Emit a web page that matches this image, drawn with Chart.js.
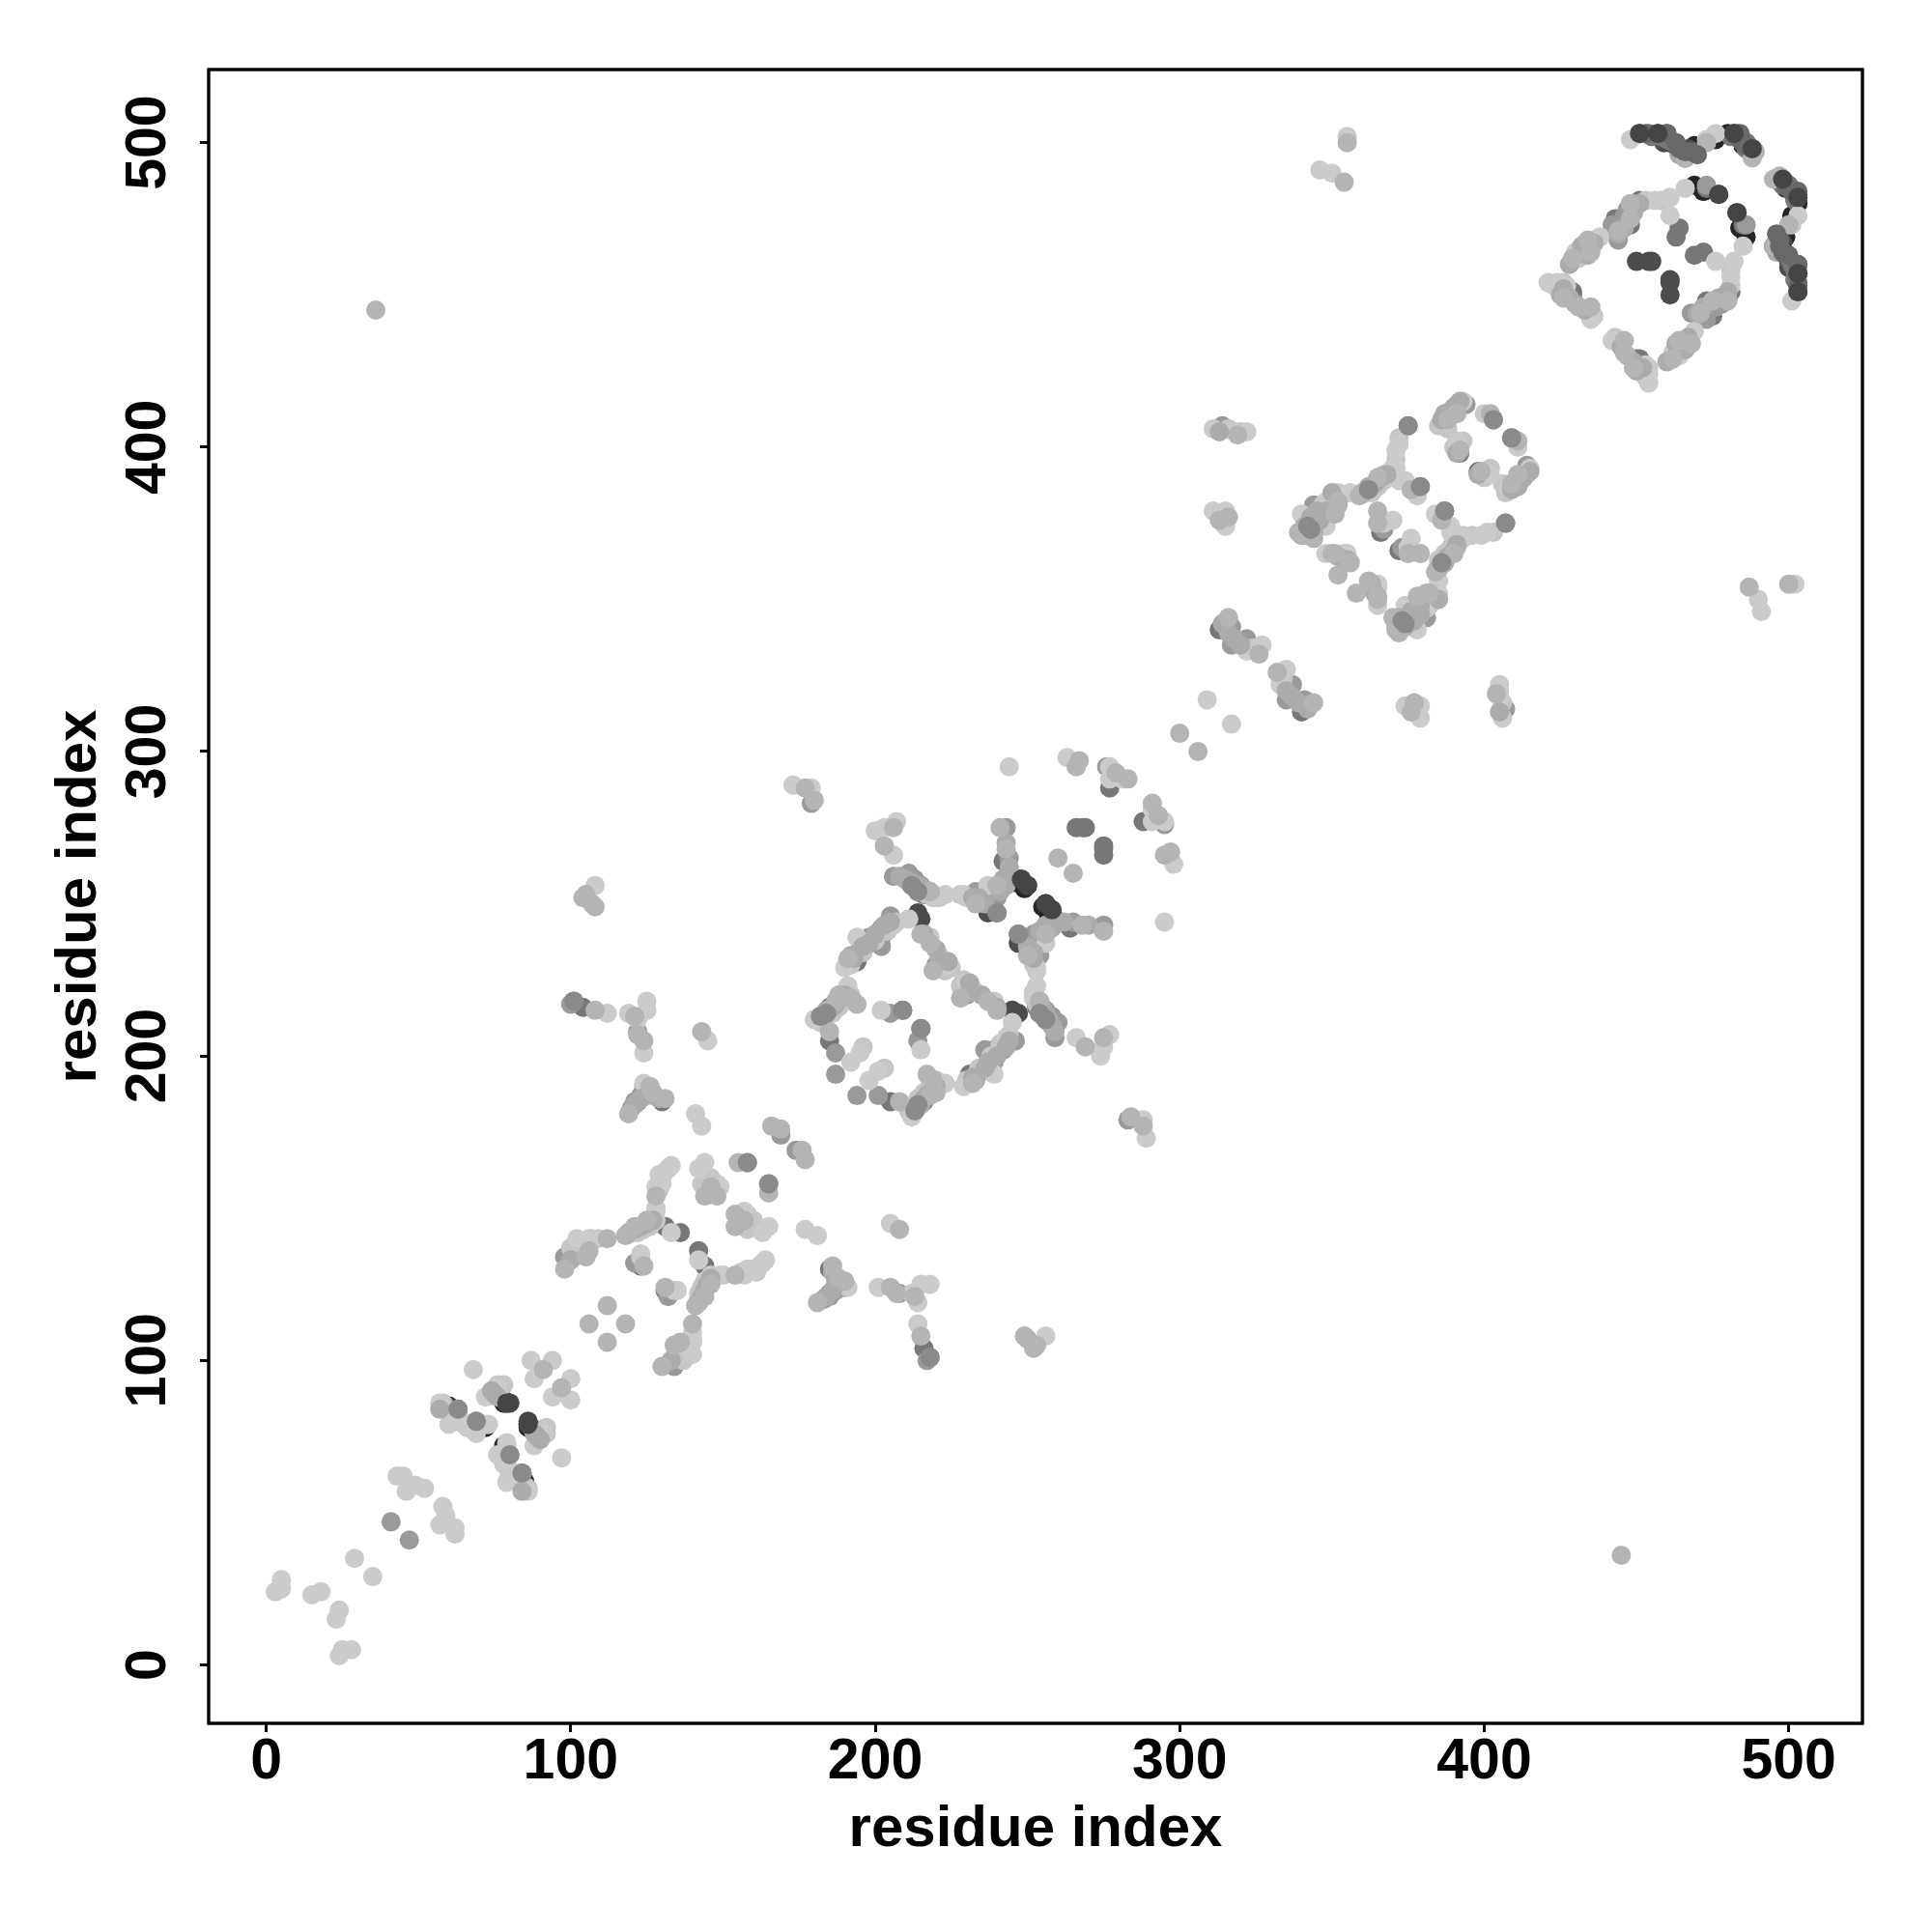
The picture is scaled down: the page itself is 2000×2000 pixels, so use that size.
<!DOCTYPE html>
<html>
<head>
<meta charset="utf-8">
<title>residue contacts</title>
<script src="https://cdn.jsdelivr.net/npm/chart.js@4"></script>
<style>
    body { margin: 0; background: #fff; }
    canvas { display: block; }
</style>
</head>
<body>
<canvas id="chart" width="2000" height="2000"></canvas>
<script>
const tickValues = [0, 100, 200, 300, 400, 500];
const axisTitle = 'residue index';

// contact pairs, grouped by grey level
const black = [[78,86],[86,78],[72,78],[78,72],[60,85],[85,60],[248,258],[258,248],[250,256],[256,250],[246,257],[257,246],[249,255],[255,249],
    [469,499],[499,469],[476,501],[501,476],[459,501],[501,459],[461,500],[500,461],[480,503],[503,480],[485,499],[499,485],[469,486],[486,469],[472,484],[484,472],[484,472],[472,484],[464,497],[497,464]];
const dark = [[79,86],[86,79],[78,87],[87,78],[60,84],[84,60],[212,256],[256,212],[214,254],[254,214],[238,254],[254,238],[237,247],[247,237],[245,259],[259,245],
    [215,245],[245,215],[214,247],[247,214],[343,375],[375,343],[451,503],[503,451],[457,503],[503,457],[464,498],[498,464],[482,503],[503,482],[495,466],[466,495],[497,469],[469,497],[500,486],[486,500],[498,488],[488,498],
    [477,483],[483,477],[450,461],[461,450],[455,461],[461,455],[454,461],[461,454],[459,500],[500,459],[465,496],[496,465],[467,498],[498,467]];
const gray = [[59,85],[85,59],[131,144],[144,131],[136,142],[142,136],[131,123],[123,131],[122,185],[185,122],[130,185],[185,130],[104,216],[216,104],[210,258],[258,210],[216,253],[253,216],[242,264],[264,242],
    [268,275],[275,268],[266,275],[275,266],[269,275],[275,269],[277,288],[288,277],[209,215],[215,209],[202,239],[239,202],[194,231],[231,194],[185,214],[214,185],[185,216],[216,185],[182,213],[213,182],[185,205],[205,185],
    [363,387],[387,363],[362,386],[386,362],[343,373],[373,343],[343,378],[378,343],[345,377],[377,345],[342,374],[374,342],[366,372],[372,366],[390,412],[412,390],[392,398],[398,392],[313,340],[340,313],
    [454,503],[503,454],[460,503],[503,460],[462,500],[500,462],[483,503],[503,483],[486,500],[500,486],[473,485],[485,473],[464,472],[472,464],[463,469],[469,463],[451,481],[481,451],[443,475],[475,443],[448,473],[473,448],[429,451],[451,429],[450,429],[429,450],
    [455,502],[502,455],[458,502],[502,458],[460,501],[501,460],[481,502],[502,481],[484,501],[501,484],[486,498],[498,486]];
const mid = [[63,84],[84,63],[69,80],[80,69],[41,47],[47,41],[120,142],[142,120],[122,143],[143,122],[124,144],[144,124],[98,134],[134,98],[101,134],[134,101],[121,132],[132,121],[158,165],[165,158],[169,174],[174,169],
    [120,183],[183,120],[123,187],[187,123],[124,190],[190,124],[208,122],[122,208],[100,217],[217,100],[101,218],[218,101],[179,283],[283,179],[206,259],[259,206],[211,260],[260,211],[213,258],[258,213],[215,256],[256,215],
    [233,254],[254,233],[240,247],[247,240],[243,275],[275,243],[244,265],[265,244],[219,253],[253,219],[276,295],[295,276],[205,214],[214,205],[202,242],[242,202],[205,246],[246,205],[202,236],[236,202],[198,239],[239,198],
    [195,235],[235,195],[187,201],[201,187],[187,194],[194,187],[314,407],[407,314],[375,407],[407,375],[361,385],[385,361],[344,381],[381,344],[379,387],[387,379],[367,373],[373,367],[392,414],[414,392],[394,414],[414,394],
    [403,409],[409,403],[317,341],[341,317],[317,335],[335,317],[322,337],[337,322],[473,486],[486,473],[444,468],[468,444],[445,473],[473,445],[446,476],[476,446],[447,478],[478,447],[449,480],[480,449],[442,473],[473,442],
    [240,252],[252,240],[235,254],[254,235],[220,230],[230,220],[121,185],[185,121]];
const light = [[91,97],[97,91],[106,112],[112,106],[112,118],[118,112],[128,154],[154,128],[121,144],[144,121],[125,146],[146,125],[118,141],[141,118],[98,130],[130,98],[106,136],[136,106],[124,131],[131,124],[105,134],[134,105],
    [112,140],[140,112],[146,157],[157,146],[144,154],[154,144],[148,154],[154,148],[155,165],[165,155],[166,177],[177,166],[169,176],[176,169],[119,181],[181,119],[126,190],[190,126],[131,186],[186,131],[127,188],[188,127],
    [124,205],[205,124],[122,207],[207,122],[121,213],[213,121],[108,215],[215,108],[105,253],[253,105],[107,250],[250,107],[108,249],[249,108],[104,252],[252,104],[143,208],[208,143],[36,445],[445,36],[180,284],[284,180],
    [177,288],[288,177],[206,275],[275,206],[203,269],[269,203],[218,254],[254,218],[233,250],[250,233],[240,256],[256,240],[241,275],[275,241],[243,268],[268,243],[260,265],[265,260],[267,297],[297,267],[279,293],[293,279],
    [283,291],[291,283],[266,295],[295,266],[215,240],[240,215],[218,237],[237,218],[219,228],[228,219],[191,232],[232,191],[192,219],[219,192],[194,217],[217,194],[187,218],[218,187],[188,220],[220,188],[185,208],[208,185],
    [319,404],[404,319],[316,377],[377,316],[313,376],[376,313],[340,371],[371,340],[344,370],[370,344],[351,378],[378,351],[352,381],[381,352],[352,382],[382,352],[339,372],[372,339],[359,384],[384,359],[365,390],[390,365],
    [376,386],[386,376],[365,379],[379,365],[351,365],[365,351],[356,362],[362,356],[352,358],[358,352],[365,350],[350,365],[375,365],[365,375],[385,360],[360,385],[391,411],[411,391],[388,409],[409,388],[392,399],[399,392],
    [411,402],[402,411],[316,344],[344,316],[326,332],[332,326],[466,495],[495,466],[473,500],[500,473],[489,497],[497,489],[488,495],[495,488],[448,480],[480,448],[448,475],[475,448],[444,471],[471,444],[434,468],[468,434],
    [435,464],[464,435],[429,462],[462,429],[431,446],[446,431],[435,446],[446,435],[449,426],[426,449],[355,500],[500,355],[354,487],[487,354],[300,306],[306,300]];
// second layer that covers the darker stripes
const lightStack = [[183,213],[213,183],[184,215],[215,184],[186,216],[216,186],[187,217],[217,187],[189,219],[219,189],[190,220],[220,190],[208,259],[259,208],[210,258],[258,210],[212,257],[257,212],[214,256],[256,214],[216,255],[255,216],[218,254],[254,218],
    [192,233],[233,192],[193,232],[232,193],[196,236],[236,196],[198,237],[237,198],[200,240],[240,200],[203,243],[243,203],[205,244],[244,205],[119,142],[142,119],[121,143],[143,121],[123,144],[144,123],[125,145],[145,125],[127,146],[146,127],
    [360,385],[385,360],[362,387],[387,362],[364,388],[388,364],[366,390],[390,366],[368,391],[391,368],[341,374],[374,341],[343,377],[377,343],[345,379],[379,345],[341,371],[371,341],[346,376],[376,346],[350,385],[385,350],[340,372],[372,340],[344,372],[372,344],
    [348,379],[379,348],[314,342],[342,314],[316,339],[339,316],[318,337],[337,318],[320,335],[335,320],[444,470],[470,444],[446,472],[472,446],[449,477],[477,449],[451,480],[480,451],[432,466],[466,432],[436,467],[467,436],[426,452],[452,426],[428,449],[449,428],
    [430,447],[447,430],[433,445],[445,433],[425,450],[450,425],[428,460],[460,428],[434,463],[463,434],[100,133],[133,100],[121,184],[184,121],[123,186],[186,123],[125,187],[187,125],[127,187],[187,127],[129,186],[186,129],[241,254],[254,241],[243,256],[256,243],
    [242,258],[258,242],[244,262],[262,244],[243,270],[270,243],[232,252],[252,232],[234,252],[252,234],[236,250],[250,236],[216,240],[240,216],[220,235],[235,220],[221,231],[231,221],[224,231],[231,224],[392,415],[415,392],[390,413],[413,390],[389,412],[412,389],
    [387,411],[411,387],[386,409],[409,386],[391,398],[398,391],[364,352],[352,364],[363,355],[355,363],[313,405],[405,313],[57,84],[84,57],[76,88],[88,76],[75,89],[89,75],[74,90],[90,74],[464,496],[496,464]];
const pale = [[3,24],[24,3],[5,25],[25,5],[5,28],[28,5],[15,23],[23,15],[18,24],[24,18],[29,35],[35,29],[43,62],[62,43],[45,62],[62,45],[49,59],[59,49],[52,58],[58,52],[46,57],[57,46],[57,86],[86,57],[60,79],[79,60],[65,79],[79,65],
    [69,76],[76,69],[73,79],[79,73],[72,79],[79,72],[68,97],[97,68],[76,91],[91,76],[72,88],[88,72],[87,100],[100,87],[94,100],[100,94],[88,94],[94,88],[133,164],[164,133],[131,162],[162,131],[130,158],[158,130],[128,149],[149,128],
    [128,146],[146,128],[128,157],[157,128],[129,161],[161,129],[133,142],[142,133],[102,140],[140,102],[106,140],[140,106],[109,140],[140,109],[107,140],[140,107],[123,135],[135,123],[134,123],[123,134],
    [144,165],[165,144],[142,163],[163,142],[149,157],[157,149],[177,143],[143,177],[181,141],[141,181],[205,145],[145,205],[124,191],[191,124],[124,201],[201,124],[119,214],[214,119],[122,212],[212,122],[125,218],[218,125],
    [125,215],[215,125],[112,214],[214,112],[108,256],[256,108],[173,289],[289,173],[179,288],[288,179],[200,274],[274,200],[203,275],[275,203],[207,277],[277,207],[206,266],[266,206],[220,252],[252,220],[223,253],[253,223],[229,253],[253,229],
    [237,256],[256,237],[263,298],[298,263],[277,295],[295,277],[277,291],[291,277],[281,291],[291,281],[244,295],[295,244],[202,215],[215,202],[217,239],[239,217],[221,233],[233,221],[224,230],[230,224],[211,245],[245,211],[206,243],[243,206],
    [194,239],[239,194],[190,229],[229,190],[191,223],[223,191],[180,212],[212,180],[195,201],[201,195],[192,198],[198,192],[311,406],[406,311],[318,405],[405,318],[322,405],[405,322],[311,379],[379,311],[315,379],[379,315],[315,374],[374,315],
    [372,401],[401,372],[371,399],[399,371],[371,393],[393,371],[367,391],[391,367],[340,378],[378,340],[348,374],[374,348],[352,385],[385,352],[356,385],[385,356],[348,382],[382,348],[347,381],[381,347],[369,392],[392,369],[370,393],[393,370],
    [374,389],[389,374],[378,384],[384,378],[372,389],[389,372],[367,375],[375,367],[370,376],[376,370],[348,365],[365,348],[355,365],[365,355],[365,354],[354,365],[400,411],[411,400],[387,408],[408,387],
    [391,402],[402,391],[393,415],[415,393],[391,414],[414,391],[322,333],[333,322],[327,335],[335,327],[448,501],[501,448],[476,503],[503,476],[466,485],[485,466],[461,476],[476,461],[461,482],[482,461],[456,481],[481,456],
    [438,469],[469,438],[430,464],[464,430],[427,453],[453,427],[424,454],[454,424],[421,454],[454,421],[435,442],[442,435],[355,502],[502,355],[346,491],[491,346],[350,490],[490,350],[309,317],[317,309],[501,473],[473,501]];
const paleStack = [[182,211],[211,182],[186,214],[214,186],[188,216],[216,188],[190,218],[218,190],[192,220],[220,192],[213,255],[255,213],[215,254],[254,215],[217,253],[253,217],[219,252],[252,219],[221,252],[252,221],[192,230],[230,192],[196,234],[234,196],
    [200,238],[238,200],[204,241],[241,204],[207,244],[244,207],[122,142],[142,122],[124,143],[143,124],[126,144],[144,126],[363,385],[385,363],[365,387],[387,365],[367,389],[389,367],[369,391],[391,369],[344,374],[374,344],[346,378],[378,346],[341,376],[376,341],
    [350,384],[384,350],[353,384],[384,353],[346,379],[379,346],[453,481],[481,453],[458,481],[481,458],[431,462],[462,431],[433,463],[463,433],[436,443],[443,436],[423,453],[453,423],[426,454],[454,426],[100,137],[137,100],[103,137],[137,103],[104,139],[139,104],
    [128,150],[150,128],[129,156],[156,129],[130,160],[160,130],[132,163],[163,132],[143,158],[158,143],[145,155],[155,145],[147,155],[155,147],[146,160],[160,146],[148,158],[158,148],[144,160],[160,144],[125,188],[188,125],[228,253],[253,228],[230,252],[252,230],
    [218,239],[239,218],[222,232],[232,222],[223,228],[228,223],[225,229],[229,225],[196,203],[203,196],[385,407],[407,385],[388,406],[406,388],[390,400],[400,390],[393,402],[402,393],[372,403],[403,372],[371,396],[396,371],[376,366],[366,376],[316,406],[406,316],
    [320,405],[405,320],[324,334],[334,324],[58,86],[86,58],[61,82],[82,61],[62,80],[80,62],[64,80],[80,64],[66,78],[78,66],[69,77],[77,69],[78,92],[92,78],[76,92],[92,76]];
// the few dark points that sit over their pale neighbours
const onTop = [[79,86],[86,79],[80,86],[86,80],[248,258],[258,248],[250,256],[256,250],[498,488],[488,498],[477,483],[483,477],[451,503],[503,451],[457,503],[503,457],[482,503],[503,482]];
const grayTop = [[503,460],[460,503],[484,501],[501,484],[486,499],[499,486],[496,470],[470,496],[497,468],[468,497],[500,463],[463,500],[503,453],[453,503],[503,484],[484,503],[500,485],[485,500],[464,498],[498,464],[466,497],[497,466]];
const midTop = [[63,84],[84,63],[69,80],[80,69],[158,165],[165,158],[379,387],[387,379],[403,409],[409,403],[375,407],[407,375],[209,215],[215,209],[240,247],[247,240],[218,101],[101,218],
    [362,386],[386,362],[342,374],[374,342],[373,343],[343,373],[182,213],[213,182],[184,214],[214,184],[212,256],[256,212],[254,214],[214,254]];

// listed bottom layer first
const shades = [
    { data: black, color: '#252525' },
    { data: dark, color: '#4c4c4c' },
    { data: gray, color: '#777777' },
    { data: mid, color: '#9a9a9a' },
    { data: paleStack, color: '#c6c6c6' },
    { data: pale, color: '#cbcbcb' },
    { data: lightStack, color: '#ababab' },
    { data: light, color: '#b4b4b4' },
    { data: midTop, color: '#8a8a8a' },
    { data: grayTop, color: '#686868' },
    { data: onTop, color: '#454545' }
];

const tickFont = { family: '"Liberation Sans"', size: 59, weight: 'bold', lineHeight: 1 };
const titleFont = { family: '"Liberation Sans"', size: 60, weight: 'bold', lineHeight: 1 };

function pinTicks(scale) {
    scale.ticks = tickValues.map(v => ({ value: v }));
}

// box round the plot plus the sideways y tick labels
const framePlugin = {
    id: 'frame',
    afterDraw(chart) {
        const { ctx, chartArea, scales } = chart;
        ctx.save();
        ctx.strokeStyle = '#000';
        ctx.lineWidth = 3.4;
        ctx.strokeRect(chartArea.left, chartArea.top, chartArea.right - chartArea.left, chartArea.bottom - chartArea.top);
        ctx.fillStyle = '#000';
        ctx.font = 'bold 59px "Liberation Sans"';
        ctx.textAlign = 'center';
        ctx.textBaseline = 'alphabetic';
        tickValues.forEach(v => {
            ctx.save();
            ctx.translate(171, scales.y.getPixelForValue(v));
            ctx.rotate(-Math.PI / 2);
            ctx.fillText(String(v), 0, 0);
            ctx.restore();
        });
        ctx.restore();
    }
};

new Chart(document.getElementById('chart').getContext('2d'), {
    type: 'scatter',
    data: {
        datasets: shades.slice().reverse().map(s => ({
            data: s.data.map(p => ({ x: p[0], y: p[1] })),
            backgroundColor: s.color,
            pointRadius: 10,
            pointBorderWidth: 0
        }))
    },
    options: {
        responsive: false,
        animation: false,
        devicePixelRatio: 1,
        layout: { padding: { top: 72, right: 72, left: 0, bottom: 0 } },
        plugins: { legend: { display: false }, tooltip: { enabled: false } },
        scales: {
            x: {
                type: 'linear',
                min: -18.9,
                max: 524.2,
                afterBuildTicks: pinTicks,
                afterFit(scale) { scale.height = 216; },
                border: { display: false },
                grid: { drawOnChartArea: false, tickLength: 9, tickWidth: 3, tickColor: '#000' },
                ticks: { color: '#000', font: tickFont, padding: 2, maxRotation: 0, minRotation: 0 },
                title: { display: true, text: axisTitle, color: '#000', font: titleFont, padding: { top: 0, bottom: 76 } }
            },
            y: {
                type: 'linear',
                min: -19.2,
                max: 524,
                afterBuildTicks: pinTicks,
                afterFit(scale) { scale.width = 216; },
                border: { display: false },
                grid: { drawOnChartArea: false, tickLength: 9, tickWidth: 3, tickColor: '#000' },
                ticks: { display: false },
                title: { display: true, text: axisTitle, color: '#000', font: titleFont, padding: { top: 52, bottom: 0 } }
            }
        }
    },
    plugins: [framePlugin]
});
</script>
</body>
</html>
